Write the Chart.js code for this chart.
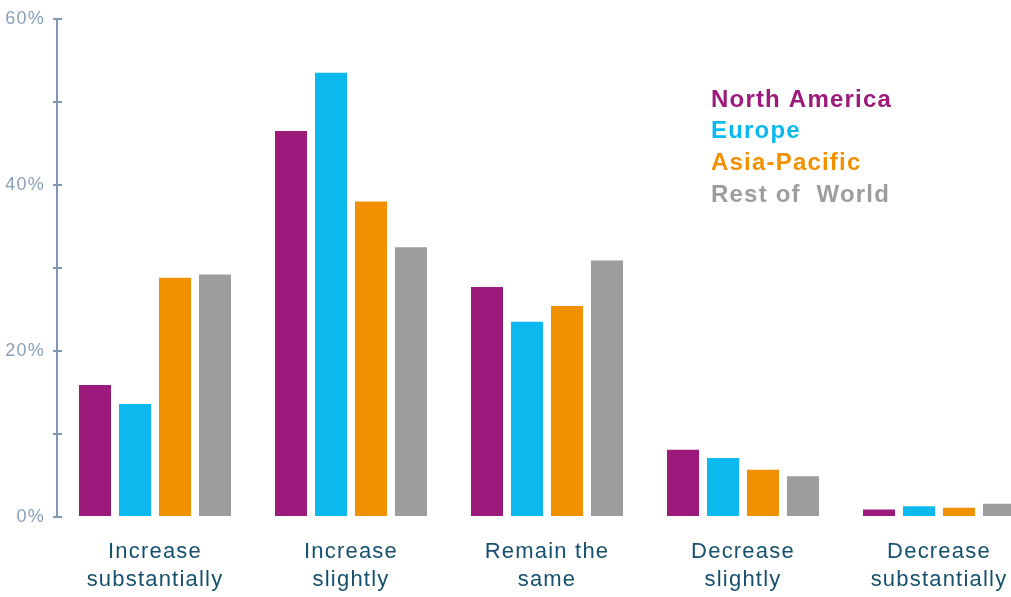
<!DOCTYPE html>
<html>
<head>
<meta charset="utf-8">
<script src="https://cdn.jsdelivr.net/npm/chart.js@4"></script>
<style>
  html, body { margin: 0; padding: 0; background: #fff; overflow: hidden; width: 1011px; height: 597px; }
  #wrap { width: 1040px; height: 597px; }
</style>
</head>
<body>
<div id="wrap"><canvas id="c" width="1040" height="597"></canvas></div>
<script>
const categories = [
  ['Increase', 'substantially'],
  ['Increase', 'slightly'],
  ['Remain the', 'same'],
  ['Decrease', 'slightly'],
  ['Decrease', 'substantially']
];
const seriesNames = ['North America', 'Europe', 'Asia-Pacific', 'Rest of  World'];
const northAmerica = [15.9, 46.5, 27.7, 8.1, 0.9];
const europe       = [13.6, 53.5, 23.5, 7.1, 1.3];
const asiaPacific  = [28.8, 38.0, 25.4, 5.7, 1.1];
const restOfWorld  = [29.2, 32.5, 30.9, 4.9, 1.6];
const seriesColors = ['#9c1a7b', '#0bb9ef', '#f29100', '#9d9d9c'];
const yTickLabels = { 0: '0%', 20: '20%', 40: '40%', 60: '60%' };

const seriesValues = [northAmerica, europe, asiaPacific, restOfWorld];

const SPACING = '1.2px';
const spacingPlugin = {
  id: 'spacing',
  beforeUpdate(chart) { chart.ctx.letterSpacing = SPACING; },
  beforeLayout(chart) { chart.ctx.letterSpacing = SPACING; },
  beforeDraw(chart) { chart.ctx.letterSpacing = SPACING; }
};

const innerTicks = {
  id: 'innerTicks',
  afterDraw(chart) {
    const y = chart.scales.y;
    const ctx = chart.ctx;
    const x0 = chart.chartArea.left;
    ctx.save();
    ctx.strokeStyle = '#7f97b2';
    ctx.lineWidth = 2;
    y.ticks.forEach(t => {
      const py = Math.round(y.getPixelForValue(t.value));
      ctx.beginPath();
      ctx.moveTo(x0 - 1, py);
      ctx.lineTo(x0 + 5, py);
      ctx.stroke();
    });
    ctx.restore();
  }
};

const textLegend = {
  id: 'textLegend',
  afterDraw(chart) {
    const ctx = chart.ctx;
    ctx.save();
    ctx.letterSpacing = '1.2px';
    ctx.font = 'bold 24px "Liberation Sans", Arial, sans-serif';
    ctx.textBaseline = 'middle';
    ctx.textAlign = 'left';
    chart.data.datasets.forEach((ds, i) => {
      ctx.fillStyle = ds.backgroundColor;
      ctx.fillText(ds.label, 711, 100 + i * 31.7);
    });
    ctx.restore();
  }
};

new Chart(document.getElementById('c'), {
  type: 'bar',
  data: {
    labels: categories,
    datasets: seriesNames.map((n, i) => ({
      label: n,
      data: seriesValues[i],
      backgroundColor: seriesColors[i],
      borderWidth: 0,
      categoryPercentage: 0.8163,
      barPercentage: 0.8
    }))
  },
  options: {
    responsive: false,
    animation: false,
    layout: { padding: { top: 17, right: 3, bottom: 0, left: 0 } },
    plugins: { legend: { display: false }, tooltip: { enabled: false } },
    scales: {
      x: {
        grid: { display: false, drawTicks: false },
        border: { display: false },
        ticks: {
          color: '#15506e',
          padding: 21,
          maxRotation: 0,
          autoSkip: false,
          font: { family: '"Liberation Sans", Arial, sans-serif', size: 22, lineHeight: 1.28 }
        },
        afterFit(s) { s.height = 80; }
      },
      y: {
        min: 0, max: 60,
        grid: { drawOnChartArea: false, drawTicks: true, tickLength: 4, color: '#7f97b2', lineWidth: 2 },
        border: { display: true, color: '#7f97b2', width: 2 },
        ticks: {
          stepSize: 10,
          color: '#8a9fb8',
          padding: 8,
          font: { family: '"Liberation Sans", Arial, sans-serif', size: 18 },
          callback: v => yTickLabels[v] !== undefined ? yTickLabels[v] : ''
        },
        afterFit(s) { s.width = 57; }
      }
    }
  },
  plugins: [spacingPlugin, innerTicks, textLegend]
});
</script>
</body>
</html>
